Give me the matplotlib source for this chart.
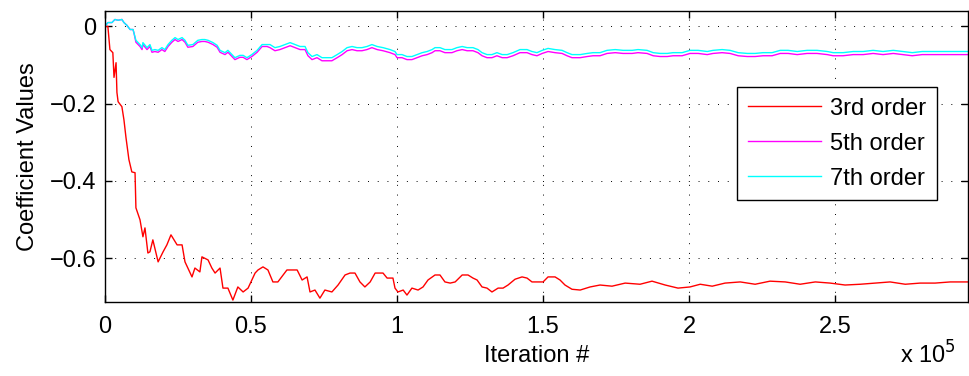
import matplotlib
matplotlib.use("Agg")
import matplotlib.pyplot as plt

plt.rcParams['font.family'] = ['Liberation Sans', 'DejaVu Sans']

# iteration number, in units of 1e5
iter_3rd = [0.000, 0.010, 0.017, 0.027, 0.031, 0.038, 0.041, 0.045, 0.058, 0.065,
            0.072, 0.082, 0.092, 0.103, 0.106, 0.120, 0.130, 0.137, 0.147, 0.154,
            0.164, 0.182, 0.199, 0.212, 0.226, 0.247, 0.264, 0.274, 0.298, 0.308,
            0.325, 0.332, 0.353, 0.366, 0.377, 0.394, 0.404, 0.421, 0.438, 0.455,
            0.473, 0.490, 0.514, 0.524, 0.541, 0.558, 0.575, 0.592, 0.623, 0.658,
            0.675, 0.692, 0.702, 0.719, 0.736, 0.753, 0.777, 0.798, 0.822, 0.839,
            0.856, 0.873, 0.890, 0.908, 0.925, 0.952, 0.966, 0.986, 0.993, 1.003,
            1.021, 1.034, 1.051, 1.072, 1.089, 1.106, 1.130, 1.147, 1.164, 1.182,
            1.199, 1.223, 1.243, 1.260, 1.274, 1.291, 1.308, 1.325, 1.346, 1.363,
            1.380, 1.404, 1.428, 1.445, 1.462, 1.483, 1.500, 1.517, 1.541, 1.558,
            1.575, 1.599, 1.627, 1.661, 1.695, 1.736, 1.781, 1.832, 1.873, 1.918,
            1.962, 2.003, 2.038, 2.079, 2.123, 2.175, 2.226, 2.277, 2.329, 2.380,
            2.432, 2.483, 2.534, 2.586, 2.637, 2.688, 2.740, 2.791, 2.842, 2.894,
            2.955]
coef_3rd = [0.000, 0.000, -0.060, -0.068, -0.132, -0.094, -0.171, -0.195, -0.208, -0.242,
            -0.288, -0.345, -0.377, -0.379, -0.470, -0.501, -0.545, -0.522, -0.587, -0.584,
            -0.553, -0.610, -0.584, -0.566, -0.540, -0.566, -0.566, -0.610, -0.649, -0.626,
            -0.636, -0.597, -0.605, -0.626, -0.639, -0.626, -0.678, -0.678, -0.709, -0.675,
            -0.688, -0.678, -0.639, -0.631, -0.623, -0.631, -0.662, -0.662, -0.631, -0.631,
            -0.657, -0.649, -0.688, -0.683, -0.704, -0.683, -0.688, -0.670, -0.644, -0.639,
            -0.639, -0.662, -0.675, -0.662, -0.639, -0.639, -0.652, -0.652, -0.678, -0.688,
            -0.683, -0.696, -0.678, -0.683, -0.675, -0.657, -0.644, -0.644, -0.662, -0.665,
            -0.662, -0.644, -0.644, -0.652, -0.657, -0.675, -0.678, -0.688, -0.678, -0.678,
            -0.670, -0.655, -0.649, -0.652, -0.662, -0.662, -0.662, -0.649, -0.649, -0.657,
            -0.670, -0.681, -0.683, -0.675, -0.670, -0.673, -0.665, -0.668, -0.660, -0.670,
            -0.678, -0.675, -0.668, -0.673, -0.665, -0.662, -0.668, -0.660, -0.662, -0.668,
            -0.662, -0.665, -0.670, -0.668, -0.665, -0.662, -0.668, -0.665, -0.665, -0.662,
            -0.662]

# 5th and 7th order runs share the same sample points
iter_hi = [0.000, 0.003, 0.010, 0.024, 0.034, 0.045, 0.058, 0.065, 0.075, 0.086,
           0.096, 0.099, 0.106, 0.120, 0.127, 0.130, 0.144, 0.154, 0.161, 0.171,
           0.182, 0.195, 0.205, 0.216, 0.229, 0.240, 0.250, 0.264, 0.274, 0.284,
           0.301, 0.318, 0.332, 0.342, 0.353, 0.370, 0.384, 0.394, 0.411, 0.421,
           0.435, 0.445, 0.462, 0.473, 0.486, 0.503, 0.521, 0.538, 0.555,
           0.565, 0.582, 0.599, 0.616, 0.634, 0.651, 0.668, 0.685, 0.695, 0.709,
           0.726, 0.743, 0.760, 0.777, 0.795, 0.812, 0.829, 0.846, 0.863, 0.880,
           0.897, 0.914, 0.932, 0.952, 0.976, 0.993, 1.000, 1.017, 1.034, 1.051,
           1.068, 1.086, 1.103, 1.120, 1.130, 1.147, 1.164, 1.188, 1.205, 1.223,
           1.240, 1.260, 1.277, 1.291, 1.308, 1.325, 1.342, 1.360, 1.377, 1.397,
           1.421, 1.445, 1.462, 1.479, 1.497, 1.517, 1.541, 1.565, 1.582, 1.599,
           1.627, 1.651, 1.671, 1.695, 1.719, 1.747, 1.774, 1.805, 1.825, 1.856,
           1.877, 1.901, 1.925, 1.945, 1.976, 2.003, 2.031, 2.062, 2.082, 2.113,
           2.140, 2.168, 2.199, 2.226, 2.253, 2.284, 2.312, 2.339, 2.370, 2.404,
           2.438, 2.473, 2.493, 2.527, 2.562, 2.596, 2.630, 2.664, 2.699, 2.733,
           2.764, 2.798, 2.836, 2.870, 2.904, 2.955]
coef_5th = [0.000, 0.003, 0.010, 0.010, 0.018, 0.016, 0.018, 0.010, 0.003, -0.008,
            -0.008, -0.016, -0.041, -0.052, -0.060, -0.047, -0.060, -0.052, -0.067, -0.065,
            -0.067, -0.060, -0.065, -0.052, -0.041, -0.034, -0.039, -0.034, -0.041, -0.054,
            -0.052, -0.041, -0.039, -0.039, -0.041, -0.047, -0.054, -0.067, -0.073, -0.067,
            -0.078, -0.086, -0.080, -0.080, -0.086, -0.078, -0.067, -0.052, -0.052,
            -0.055, -0.063, -0.060, -0.055, -0.050, -0.055, -0.060, -0.060, -0.076, -0.086,
            -0.081, -0.089, -0.089, -0.089, -0.081, -0.073, -0.063, -0.060, -0.063, -0.063,
            -0.060, -0.055, -0.060, -0.063, -0.068, -0.073, -0.081, -0.081, -0.086, -0.086,
            -0.081, -0.076, -0.073, -0.068, -0.063, -0.063, -0.068, -0.068, -0.063, -0.060,
            -0.063, -0.063, -0.068, -0.076, -0.081, -0.081, -0.076, -0.081, -0.081, -0.076,
            -0.068, -0.068, -0.073, -0.076, -0.070, -0.065, -0.068, -0.070, -0.076, -0.081,
            -0.081, -0.078, -0.076, -0.076, -0.070, -0.068, -0.070, -0.070, -0.068, -0.070,
            -0.076, -0.078, -0.078, -0.076, -0.076, -0.070, -0.070, -0.073, -0.070, -0.068,
            -0.070, -0.076, -0.078, -0.078, -0.076, -0.076, -0.070, -0.070, -0.073, -0.070,
            -0.070, -0.073, -0.076, -0.076, -0.073, -0.073, -0.070, -0.073, -0.070, -0.073,
            -0.076, -0.073, -0.073, -0.073, -0.073, -0.073]
coef_7th = [0.000, 0.003, 0.010, 0.010, 0.018, 0.016, 0.018, 0.010, 0.003, -0.008,
            -0.008, -0.016, -0.036, -0.047, -0.055, -0.042, -0.055, -0.047, -0.062, -0.060,
            -0.062, -0.055, -0.060, -0.047, -0.036, -0.029, -0.034, -0.029, -0.036, -0.049,
            -0.047, -0.036, -0.034, -0.034, -0.036, -0.042, -0.049, -0.062, -0.068, -0.062,
            -0.073, -0.081, -0.075, -0.075, -0.081, -0.073, -0.062, -0.047, -0.047,
            -0.047, -0.055, -0.052, -0.047, -0.042, -0.047, -0.052, -0.052, -0.068, -0.078,
            -0.073, -0.081, -0.081, -0.081, -0.073, -0.065, -0.055, -0.052, -0.055, -0.055,
            -0.052, -0.047, -0.052, -0.055, -0.060, -0.065, -0.073, -0.073, -0.078, -0.078,
            -0.073, -0.068, -0.065, -0.060, -0.055, -0.055, -0.060, -0.060, -0.055, -0.052,
            -0.055, -0.055, -0.060, -0.068, -0.073, -0.073, -0.068, -0.073, -0.073, -0.068,
            -0.060, -0.060, -0.065, -0.068, -0.062, -0.057, -0.060, -0.062, -0.068, -0.073,
            -0.073, -0.070, -0.068, -0.068, -0.062, -0.060, -0.062, -0.062, -0.060, -0.062,
            -0.068, -0.070, -0.070, -0.068, -0.068, -0.062, -0.062, -0.065, -0.062, -0.060,
            -0.062, -0.068, -0.070, -0.070, -0.068, -0.068, -0.062, -0.062, -0.065, -0.062,
            -0.062, -0.065, -0.068, -0.068, -0.065, -0.065, -0.062, -0.065, -0.062, -0.065,
            -0.068, -0.065, -0.065, -0.065, -0.065, -0.065]

series_labels = ['3rd order', '5th order', '7th order']
x_ticks = [0, 0.5, 1, 1.5, 2, 2.5]
x_ticklabels = ['0', '0.5', '1', '1.5', '2', '2.5']
y_ticks = [-0.6, -0.4, -0.2, 0]
y_ticklabels = ['\u22120.6', '\u22120.4', '\u22120.2', '0']

FS = 17

fig = plt.figure(figsize=(9.7, 3.76), dpi=100)
ax = fig.add_axes([0.1082, 0.1968, 0.8898, 0.774])

ax.plot(iter_3rd, coef_3rd, color='#ff0000', lw=1.0, label=series_labels[0])
ax.plot(iter_hi, coef_5th, color='#ff00ff', lw=1.0, label=series_labels[1])
ax.plot(iter_hi, coef_7th, color='#00ffff', lw=1.0, label=series_labels[2])

ax.set_xlim(0, 2.955)
ax.set_ylim(-0.714, 0.04)
ax.set_xticks(x_ticks)
ax.set_xticklabels(x_ticklabels)
ax.set_yticks(y_ticks)
ax.set_yticklabels(y_ticklabels)

ax.grid(True, color='black', linestyle=(0, (1, 9)), linewidth=0.7)
ax.tick_params(direction='in', length=5, width=1, top=True, right=True,
               labelsize=FS)
ax.tick_params(axis='y', pad=6)
ax.tick_params(axis='x', pad=10)
for s in ax.spines.values():
    s.set_linewidth(1.0)

ax.set_xlabel('Iteration #', fontsize=FS, labelpad=5)
ax.set_ylabel('Coefficient Values', fontsize=FS, labelpad=8)
fig.text(0.985, 0.02, 'x 10$^5$', fontsize=FS, ha='right', va='bottom')

leg = ax.legend(loc='upper right', bbox_to_anchor=(0.964, 0.739), fontsize=FS,
                handlelength=3.1, labelspacing=0.55, borderpad=0.45,
                handletextpad=0.4, fancybox=False, framealpha=1,
                edgecolor='black', borderaxespad=0)
leg.get_frame().set_linewidth(1.0)

fig.savefig('out.png', dpi=100)
